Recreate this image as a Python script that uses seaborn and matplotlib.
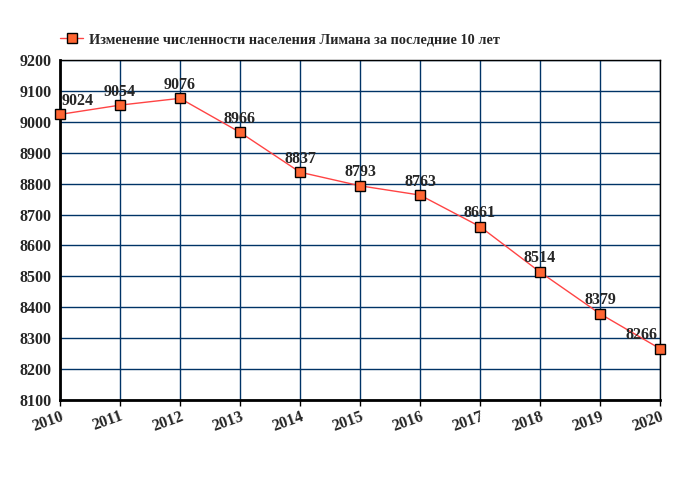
import matplotlib
matplotlib.use("Agg")
import matplotlib.pyplot as plt
import seaborn as sns
import pandas as pd

years = [2010, 2011, 2012, 2013, 2014, 2015, 2016, 2017, 2018, 2019, 2020]
population = [9024, 9054, 9076, 8966, 8837, 8793, 8763, 8661, 8514, 8379, 8266]
label = "Изменение численности населения Лимана за последние 10 лет"

df = pd.DataFrame({"year": years, "pop": population})

sns.set_style("white")
plt.rcParams["font.family"] = ["Liberation Serif", "DejaVu Serif"]
plt.rcParams["font.weight"] = "bold"

fig = plt.figure(figsize=(6.8, 5.0), dpi=100)
ax = fig.add_axes([60 / 680, 100 / 500, 600 / 680, 340 / 500])

sns.lineplot(data=df, x="year", y="pop", ax=ax, color="#ff4444", lw=1,
             marker="s", markersize=7, markerfacecolor="#ff6633",
             markeredgecolor="black", markeredgewidth=1, label=label,
             clip_on=False, zorder=5)

ax.set_xlim(2010, 2020)
ax.set_ylim(8100, 9200)
ax.set_xticks(years)
ax.set_yticks(range(8100, 9201, 100))
ax.grid(True, color="#003366", lw=1)
ax.set_xlabel("")
ax.set_ylabel("")

for s in ["top", "right"]:
    ax.spines[s].set_color("black")
    ax.spines[s].set_linewidth(1)
for s in ["left", "bottom"]:
    ax.spines[s].set_color("black")
    ax.spines[s].set_linewidth(2)
    ax.spines[s].set_zorder(4)

ax.tick_params(axis="both", labelsize=11.5, length=4, width=1, color="black",
               pad=2)
ax.tick_params(axis="x", direction="out", bottom=True)
ax.tick_params(axis="y", left=False)
for t in ax.get_xticklabels():
    t.set_rotation(20)
    t.set_ha("right")
    t.set_rotation_mode("anchor")
    t.set_fontweight("bold")
for t in ax.get_yticklabels():
    t.set_fontweight("bold")

for i, (x, y) in enumerate(zip(years, population)):
    dx = 0
    if i == 0:
        dx = 13
    elif i == len(years) - 1:
        dx = -13
    ax.annotate(str(y), (x, y), xytext=(dx, 4), textcoords="offset points",
                ha="center", va="bottom", fontsize=11.5, fontweight="bold",
                zorder=6)

leg = ax.legend(loc="center", bbox_to_anchor=(0.367, 1.06), frameon=False,
                prop={"size": 10.3, "weight": "bold"}, handlelength=1.6,
                handletextpad=0.4)

fig.savefig("out.png", dpi=100)
